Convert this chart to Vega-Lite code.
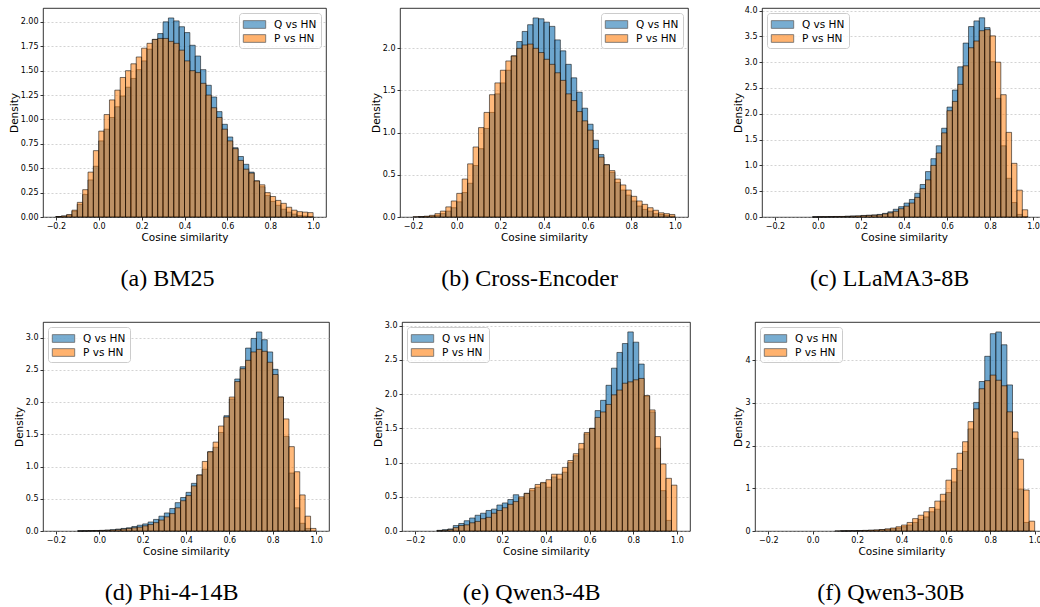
{
"$schema": "https://vega.github.io/schema/vega-lite/v6.json",
"background": "white",
"padding": {"left": 8, "top": 6, "right": 0, "bottom": 0},
"config": {
  "font": "DejaVu Sans",
  "view": {"stroke": "#000000", "strokeWidth": 0.8},
  "axis": {"domain": false, "tickColor": "#000000", "tickSize": 3, "tickWidth": 0.8, "labelFont": "DejaVu Sans", "labelFontSize": 8, "labelColor": "#000000", "labelPadding": 2, "titleFont": "DejaVu Sans", "titleFontSize": 10.5, "titleFontWeight": "normal", "titleColor": "#000000", "titlePadding": 1},
  "axisX": {"grid": false, "titlePadding": 2},
  "axisY": {"grid": true, "gridColor": "#b0b0b0", "gridDash": [2, 2], "gridWidth": 0.7, "gridOpacity": 0.8},
  "legend": {"labelFont": "DejaVu Sans", "labelFontSize": 10.5, "labelColor": "#000000", "symbolType": "M-1.6,-0.55H1.6V0.55H-1.6Z", "symbolSize": 196, "symbolStrokeColor": "#000000", "symbolStrokeWidth": 0.8, "symbolOpacity": 0.6, "padding": 4, "rowPadding": 1, "labelOffset": 12, "symbolOffset": 4, "strokeColor": "#cccccc", "fillColor": "rgba(255,255,255,0.8)", "cornerRadius": 3, "offset": 5},
  "title": {"orient": "bottom", "frame": "bounds", "anchor": "middle", "font": "Liberation Serif", "fontSize": 24, "fontWeight": "normal", "color": "#000000", "offset": 24}
},
"datasets": {
"a": [
{"s":"Q vs HN","x":-0.2,"x2":-0.175,"y":0.005},{"s":"Q vs HN","x":-0.175,"x2":-0.15,"y":0.01},{"s":"Q vs HN","x":-0.15,"x2":-0.125,"y":0.02},{"s":"Q vs HN","x":-0.125,"x2":-0.1,"y":0.06},{"s":"Q vs HN","x":-0.1,"x2":-0.075,"y":0.13},{"s":"Q vs HN","x":-0.075,"x2":-0.05,"y":0.23},{"s":"Q vs HN","x":-0.05,"x2":-0.025,"y":0.38},{"s":"Q vs HN","x":-0.025,"x2":0,"y":0.52},{"s":"Q vs HN","x":0,"x2":0.025,"y":0.78},{"s":"Q vs HN","x":0.025,"x2":0.05,"y":0.90},{"s":"Q vs HN","x":0.05,"x2":0.075,"y":1.02},{"s":"Q vs HN","x":0.075,"x2":0.1,"y":1.13},{"s":"Q vs HN","x":0.1,"x2":0.125,"y":1.24},{"s":"Q vs HN","x":0.125,"x2":0.15,"y":1.33},{"s":"Q vs HN","x":0.15,"x2":0.175,"y":1.42},{"s":"Q vs HN","x":0.175,"x2":0.2,"y":1.51},{"s":"Q vs HN","x":0.2,"x2":0.225,"y":1.60},{"s":"Q vs HN","x":0.225,"x2":0.25,"y":1.72},{"s":"Q vs HN","x":0.25,"x2":0.275,"y":1.82},{"s":"Q vs HN","x":0.275,"x2":0.3,"y":1.88},{"s":"Q vs HN","x":0.3,"x2":0.325,"y":2.00},{"s":"Q vs HN","x":0.325,"x2":0.35,"y":2.04},{"s":"Q vs HN","x":0.35,"x2":0.375,"y":2.01},{"s":"Q vs HN","x":0.375,"x2":0.4,"y":1.95},{"s":"Q vs HN","x":0.4,"x2":0.425,"y":1.89},{"s":"Q vs HN","x":0.425,"x2":0.45,"y":1.76},{"s":"Q vs HN","x":0.45,"x2":0.475,"y":1.65},{"s":"Q vs HN","x":0.475,"x2":0.5,"y":1.51},{"s":"Q vs HN","x":0.5,"x2":0.525,"y":1.35},{"s":"Q vs HN","x":0.525,"x2":0.55,"y":1.23},{"s":"Q vs HN","x":0.55,"x2":0.575,"y":1.08},{"s":"Q vs HN","x":0.575,"x2":0.6,"y":0.95},{"s":"Q vs HN","x":0.6,"x2":0.625,"y":0.82},{"s":"Q vs HN","x":0.625,"x2":0.65,"y":0.71},{"s":"Q vs HN","x":0.65,"x2":0.675,"y":0.62},{"s":"Q vs HN","x":0.675,"x2":0.7,"y":0.54},{"s":"Q vs HN","x":0.7,"x2":0.725,"y":0.46},{"s":"Q vs HN","x":0.725,"x2":0.75,"y":0.37},{"s":"Q vs HN","x":0.75,"x2":0.775,"y":0.31},{"s":"Q vs HN","x":0.775,"x2":0.8,"y":0.22},{"s":"Q vs HN","x":0.8,"x2":0.825,"y":0.16},{"s":"Q vs HN","x":0.825,"x2":0.85,"y":0.12},{"s":"Q vs HN","x":0.85,"x2":0.875,"y":0.08},{"s":"Q vs HN","x":0.875,"x2":0.9,"y":0.05},{"s":"Q vs HN","x":0.9,"x2":0.925,"y":0.03},{"s":"Q vs HN","x":0.925,"x2":0.95,"y":0.015},{"s":"Q vs HN","x":0.95,"x2":0.975,"y":0.01},{"s":"Q vs HN","x":0.975,"x2":1,"y":0.005},
{"s":"P vs HN","x":-0.2,"x2":-0.175,"y":0.005},{"s":"P vs HN","x":-0.175,"x2":-0.15,"y":0.01},{"s":"P vs HN","x":-0.15,"x2":-0.125,"y":0.025},{"s":"P vs HN","x":-0.125,"x2":-0.1,"y":0.07},{"s":"P vs HN","x":-0.1,"x2":-0.075,"y":0.15},{"s":"P vs HN","x":-0.075,"x2":-0.05,"y":0.28},{"s":"P vs HN","x":-0.05,"x2":-0.025,"y":0.46},{"s":"P vs HN","x":-0.025,"x2":0,"y":0.68},{"s":"P vs HN","x":0,"x2":0.025,"y":0.88},{"s":"P vs HN","x":0.025,"x2":0.05,"y":1.05},{"s":"P vs HN","x":0.05,"x2":0.075,"y":1.20},{"s":"P vs HN","x":0.075,"x2":0.1,"y":1.30},{"s":"P vs HN","x":0.1,"x2":0.125,"y":1.43},{"s":"P vs HN","x":0.125,"x2":0.15,"y":1.50},{"s":"P vs HN","x":0.15,"x2":0.175,"y":1.57},{"s":"P vs HN","x":0.175,"x2":0.2,"y":1.64},{"s":"P vs HN","x":0.2,"x2":0.225,"y":1.73},{"s":"P vs HN","x":0.225,"x2":0.25,"y":1.78},{"s":"P vs HN","x":0.25,"x2":0.275,"y":1.82},{"s":"P vs HN","x":0.275,"x2":0.3,"y":1.83},{"s":"P vs HN","x":0.3,"x2":0.325,"y":1.83},{"s":"P vs HN","x":0.325,"x2":0.35,"y":1.80},{"s":"P vs HN","x":0.35,"x2":0.375,"y":1.78},{"s":"P vs HN","x":0.375,"x2":0.4,"y":1.71},{"s":"P vs HN","x":0.4,"x2":0.425,"y":1.60},{"s":"P vs HN","x":0.425,"x2":0.45,"y":1.50},{"s":"P vs HN","x":0.45,"x2":0.475,"y":1.48},{"s":"P vs HN","x":0.475,"x2":0.5,"y":1.37},{"s":"P vs HN","x":0.5,"x2":0.525,"y":1.25},{"s":"P vs HN","x":0.525,"x2":0.55,"y":1.12},{"s":"P vs HN","x":0.55,"x2":0.575,"y":1.02},{"s":"P vs HN","x":0.575,"x2":0.6,"y":0.90},{"s":"P vs HN","x":0.6,"x2":0.625,"y":0.78},{"s":"P vs HN","x":0.625,"x2":0.65,"y":0.70},{"s":"P vs HN","x":0.65,"x2":0.675,"y":0.58},{"s":"P vs HN","x":0.675,"x2":0.7,"y":0.49},{"s":"P vs HN","x":0.7,"x2":0.725,"y":0.45},{"s":"P vs HN","x":0.725,"x2":0.75,"y":0.37},{"s":"P vs HN","x":0.75,"x2":0.775,"y":0.33},{"s":"P vs HN","x":0.775,"x2":0.8,"y":0.25},{"s":"P vs HN","x":0.8,"x2":0.825,"y":0.21},{"s":"P vs HN","x":0.825,"x2":0.85,"y":0.17},{"s":"P vs HN","x":0.85,"x2":0.875,"y":0.14},{"s":"P vs HN","x":0.875,"x2":0.9,"y":0.10},{"s":"P vs HN","x":0.9,"x2":0.925,"y":0.07},{"s":"P vs HN","x":0.925,"x2":0.95,"y":0.055},{"s":"P vs HN","x":0.95,"x2":0.975,"y":0.05},{"s":"P vs HN","x":0.975,"x2":1,"y":0.045}
],
"b": [
{"s":"Q vs HN","x":-0.175,"x2":-0.15,"y":0.003},{"s":"Q vs HN","x":-0.15,"x2":-0.125,"y":0.005},{"s":"Q vs HN","x":-0.125,"x2":-0.1,"y":0.01},{"s":"Q vs HN","x":-0.1,"x2":-0.075,"y":0.02},{"s":"Q vs HN","x":-0.075,"x2":-0.05,"y":0.04},{"s":"Q vs HN","x":-0.05,"x2":-0.025,"y":0.07},{"s":"Q vs HN","x":-0.025,"x2":0,"y":0.11},{"s":"Q vs HN","x":0,"x2":0.025,"y":0.18},{"s":"Q vs HN","x":0.025,"x2":0.05,"y":0.29},{"s":"Q vs HN","x":0.05,"x2":0.075,"y":0.40},{"s":"Q vs HN","x":0.075,"x2":0.1,"y":0.61},{"s":"Q vs HN","x":0.1,"x2":0.125,"y":0.81},{"s":"Q vs HN","x":0.125,"x2":0.15,"y":1.05},{"s":"Q vs HN","x":0.15,"x2":0.175,"y":1.24},{"s":"Q vs HN","x":0.175,"x2":0.2,"y":1.46},{"s":"Q vs HN","x":0.2,"x2":0.225,"y":1.59},{"s":"Q vs HN","x":0.225,"x2":0.25,"y":1.74},{"s":"Q vs HN","x":0.25,"x2":0.275,"y":1.91},{"s":"Q vs HN","x":0.275,"x2":0.3,"y":2.08},{"s":"Q vs HN","x":0.3,"x2":0.325,"y":2.20},{"s":"Q vs HN","x":0.325,"x2":0.35,"y":2.28},{"s":"Q vs HN","x":0.35,"x2":0.375,"y":2.36},{"s":"Q vs HN","x":0.375,"x2":0.4,"y":2.35},{"s":"Q vs HN","x":0.4,"x2":0.425,"y":2.31},{"s":"Q vs HN","x":0.425,"x2":0.45,"y":2.26},{"s":"Q vs HN","x":0.45,"x2":0.475,"y":2.10},{"s":"Q vs HN","x":0.475,"x2":0.5,"y":1.97},{"s":"Q vs HN","x":0.5,"x2":0.525,"y":1.81},{"s":"Q vs HN","x":0.525,"x2":0.55,"y":1.65},{"s":"Q vs HN","x":0.55,"x2":0.575,"y":1.48},{"s":"Q vs HN","x":0.575,"x2":0.6,"y":1.29},{"s":"Q vs HN","x":0.6,"x2":0.625,"y":1.10},{"s":"Q vs HN","x":0.625,"x2":0.65,"y":0.91},{"s":"Q vs HN","x":0.65,"x2":0.675,"y":0.74},{"s":"Q vs HN","x":0.675,"x2":0.7,"y":0.62},{"s":"Q vs HN","x":0.7,"x2":0.725,"y":0.53},{"s":"Q vs HN","x":0.725,"x2":0.75,"y":0.41},{"s":"Q vs HN","x":0.75,"x2":0.775,"y":0.32},{"s":"Q vs HN","x":0.775,"x2":0.8,"y":0.26},{"s":"Q vs HN","x":0.8,"x2":0.825,"y":0.19},{"s":"Q vs HN","x":0.825,"x2":0.85,"y":0.13},{"s":"Q vs HN","x":0.85,"x2":0.875,"y":0.09},{"s":"Q vs HN","x":0.875,"x2":0.9,"y":0.07},{"s":"Q vs HN","x":0.9,"x2":0.925,"y":0.04},{"s":"Q vs HN","x":0.925,"x2":0.95,"y":0.03},{"s":"Q vs HN","x":0.95,"x2":0.975,"y":0.02},{"s":"Q vs HN","x":0.975,"x2":1,"y":0.01},
{"s":"P vs HN","x":-0.2,"x2":-0.175,"y":0.005},{"s":"P vs HN","x":-0.175,"x2":-0.15,"y":0.005},{"s":"P vs HN","x":-0.15,"x2":-0.125,"y":0.01},{"s":"P vs HN","x":-0.125,"x2":-0.1,"y":0.02},{"s":"P vs HN","x":-0.1,"x2":-0.075,"y":0.04},{"s":"P vs HN","x":-0.075,"x2":-0.05,"y":0.07},{"s":"P vs HN","x":-0.05,"x2":-0.025,"y":0.12},{"s":"P vs HN","x":-0.025,"x2":0,"y":0.19},{"s":"P vs HN","x":0,"x2":0.025,"y":0.28},{"s":"P vs HN","x":0.025,"x2":0.05,"y":0.45},{"s":"P vs HN","x":0.05,"x2":0.075,"y":0.63},{"s":"P vs HN","x":0.075,"x2":0.1,"y":0.83},{"s":"P vs HN","x":0.1,"x2":0.125,"y":1.06},{"s":"P vs HN","x":0.125,"x2":0.15,"y":1.24},{"s":"P vs HN","x":0.15,"x2":0.175,"y":1.45},{"s":"P vs HN","x":0.175,"x2":0.2,"y":1.59},{"s":"P vs HN","x":0.2,"x2":0.225,"y":1.74},{"s":"P vs HN","x":0.225,"x2":0.25,"y":1.85},{"s":"P vs HN","x":0.25,"x2":0.275,"y":1.91},{"s":"P vs HN","x":0.275,"x2":0.3,"y":2.00},{"s":"P vs HN","x":0.3,"x2":0.325,"y":2.04},{"s":"P vs HN","x":0.325,"x2":0.35,"y":2.05},{"s":"P vs HN","x":0.35,"x2":0.375,"y":2.00},{"s":"P vs HN","x":0.375,"x2":0.4,"y":1.95},{"s":"P vs HN","x":0.4,"x2":0.425,"y":1.87},{"s":"P vs HN","x":0.425,"x2":0.45,"y":1.81},{"s":"P vs HN","x":0.45,"x2":0.475,"y":1.71},{"s":"P vs HN","x":0.475,"x2":0.5,"y":1.62},{"s":"P vs HN","x":0.5,"x2":0.525,"y":1.46},{"s":"P vs HN","x":0.525,"x2":0.55,"y":1.38},{"s":"P vs HN","x":0.55,"x2":0.575,"y":1.25},{"s":"P vs HN","x":0.575,"x2":0.6,"y":1.14},{"s":"P vs HN","x":0.6,"x2":0.625,"y":1.03},{"s":"P vs HN","x":0.625,"x2":0.65,"y":0.81},{"s":"P vs HN","x":0.65,"x2":0.675,"y":0.71},{"s":"P vs HN","x":0.675,"x2":0.7,"y":0.62},{"s":"P vs HN","x":0.7,"x2":0.725,"y":0.55},{"s":"P vs HN","x":0.725,"x2":0.75,"y":0.45},{"s":"P vs HN","x":0.75,"x2":0.775,"y":0.38},{"s":"P vs HN","x":0.775,"x2":0.8,"y":0.32},{"s":"P vs HN","x":0.8,"x2":0.825,"y":0.245},{"s":"P vs HN","x":0.825,"x2":0.85,"y":0.19},{"s":"P vs HN","x":0.85,"x2":0.875,"y":0.15},{"s":"P vs HN","x":0.875,"x2":0.9,"y":0.11},{"s":"P vs HN","x":0.9,"x2":0.925,"y":0.08},{"s":"P vs HN","x":0.925,"x2":0.95,"y":0.05},{"s":"P vs HN","x":0.95,"x2":0.975,"y":0.04},{"s":"P vs HN","x":0.975,"x2":1,"y":0.03}
],
"c": [
{"s":"Q vs HN","x":-0.025,"x2":0,"y":0.003},{"s":"Q vs HN","x":0,"x2":0.025,"y":0.005},{"s":"Q vs HN","x":0.025,"x2":0.05,"y":0.005},{"s":"Q vs HN","x":0.05,"x2":0.075,"y":0.008},{"s":"Q vs HN","x":0.075,"x2":0.1,"y":0.01},{"s":"Q vs HN","x":0.1,"x2":0.125,"y":0.01},{"s":"Q vs HN","x":0.125,"x2":0.15,"y":0.015},{"s":"Q vs HN","x":0.15,"x2":0.175,"y":0.02},{"s":"Q vs HN","x":0.175,"x2":0.2,"y":0.02},{"s":"Q vs HN","x":0.2,"x2":0.225,"y":0.03},{"s":"Q vs HN","x":0.225,"x2":0.25,"y":0.035},{"s":"Q vs HN","x":0.25,"x2":0.275,"y":0.04},{"s":"Q vs HN","x":0.275,"x2":0.3,"y":0.05},{"s":"Q vs HN","x":0.3,"x2":0.325,"y":0.07},{"s":"Q vs HN","x":0.325,"x2":0.35,"y":0.10},{"s":"Q vs HN","x":0.35,"x2":0.375,"y":0.15},{"s":"Q vs HN","x":0.375,"x2":0.4,"y":0.20},{"s":"Q vs HN","x":0.4,"x2":0.425,"y":0.27},{"s":"Q vs HN","x":0.425,"x2":0.45,"y":0.34},{"s":"Q vs HN","x":0.45,"x2":0.475,"y":0.46},{"s":"Q vs HN","x":0.475,"x2":0.5,"y":0.63},{"s":"Q vs HN","x":0.5,"x2":0.525,"y":0.88},{"s":"Q vs HN","x":0.525,"x2":0.55,"y":1.13},{"s":"Q vs HN","x":0.55,"x2":0.575,"y":1.38},{"s":"Q vs HN","x":0.575,"x2":0.6,"y":1.72},{"s":"Q vs HN","x":0.6,"x2":0.625,"y":2.13},{"s":"Q vs HN","x":0.625,"x2":0.65,"y":2.46},{"s":"Q vs HN","x":0.65,"x2":0.675,"y":2.91},{"s":"Q vs HN","x":0.675,"x2":0.7,"y":3.37},{"s":"Q vs HN","x":0.7,"x2":0.725,"y":3.69},{"s":"Q vs HN","x":0.725,"x2":0.75,"y":3.80},{"s":"Q vs HN","x":0.75,"x2":0.775,"y":3.86},{"s":"Q vs HN","x":0.775,"x2":0.8,"y":3.67},{"s":"Q vs HN","x":0.8,"x2":0.825,"y":3.01},{"s":"Q vs HN","x":0.825,"x2":0.85,"y":2.30},{"s":"Q vs HN","x":0.85,"x2":0.875,"y":1.38},{"s":"Q vs HN","x":0.875,"x2":0.9,"y":0.75},{"s":"Q vs HN","x":0.9,"x2":0.925,"y":0.28},{"s":"Q vs HN","x":0.925,"x2":0.95,"y":0.05},{"s":"Q vs HN","x":0.95,"x2":0.975,"y":0.01},
{"s":"P vs HN","x":-0.025,"x2":0,"y":0.002},{"s":"P vs HN","x":0,"x2":0.025,"y":0.004},{"s":"P vs HN","x":0.025,"x2":0.05,"y":0.005},{"s":"P vs HN","x":0.05,"x2":0.075,"y":0.006},{"s":"P vs HN","x":0.075,"x2":0.1,"y":0.008},{"s":"P vs HN","x":0.1,"x2":0.125,"y":0.01},{"s":"P vs HN","x":0.125,"x2":0.15,"y":0.012},{"s":"P vs HN","x":0.15,"x2":0.175,"y":0.015},{"s":"P vs HN","x":0.175,"x2":0.2,"y":0.02},{"s":"P vs HN","x":0.2,"x2":0.225,"y":0.025},{"s":"P vs HN","x":0.225,"x2":0.25,"y":0.03},{"s":"P vs HN","x":0.25,"x2":0.275,"y":0.035},{"s":"P vs HN","x":0.275,"x2":0.3,"y":0.04},{"s":"P vs HN","x":0.3,"x2":0.325,"y":0.06},{"s":"P vs HN","x":0.325,"x2":0.35,"y":0.08},{"s":"P vs HN","x":0.35,"x2":0.375,"y":0.11},{"s":"P vs HN","x":0.375,"x2":0.4,"y":0.16},{"s":"P vs HN","x":0.4,"x2":0.425,"y":0.21},{"s":"P vs HN","x":0.425,"x2":0.45,"y":0.27},{"s":"P vs HN","x":0.45,"x2":0.475,"y":0.38},{"s":"P vs HN","x":0.475,"x2":0.5,"y":0.55},{"s":"P vs HN","x":0.5,"x2":0.525,"y":0.72},{"s":"P vs HN","x":0.525,"x2":0.55,"y":1.00},{"s":"P vs HN","x":0.55,"x2":0.575,"y":1.24},{"s":"P vs HN","x":0.575,"x2":0.6,"y":1.63},{"s":"P vs HN","x":0.6,"x2":0.625,"y":2.06},{"s":"P vs HN","x":0.625,"x2":0.65,"y":2.24},{"s":"P vs HN","x":0.65,"x2":0.675,"y":2.57},{"s":"P vs HN","x":0.675,"x2":0.7,"y":2.93},{"s":"P vs HN","x":0.7,"x2":0.725,"y":3.28},{"s":"P vs HN","x":0.725,"x2":0.75,"y":3.41},{"s":"P vs HN","x":0.75,"x2":0.775,"y":3.61},{"s":"P vs HN","x":0.775,"x2":0.8,"y":3.63},{"s":"P vs HN","x":0.8,"x2":0.825,"y":3.51},{"s":"P vs HN","x":0.825,"x2":0.85,"y":3.00},{"s":"P vs HN","x":0.85,"x2":0.875,"y":2.37},{"s":"P vs HN","x":0.875,"x2":0.9,"y":1.64},{"s":"P vs HN","x":0.9,"x2":0.925,"y":1.04},{"s":"P vs HN","x":0.925,"x2":0.95,"y":0.52},{"s":"P vs HN","x":0.95,"x2":0.975,"y":0.14}
],
"d": [
{"s":"Q vs HN","x":-0.1,"x2":-0.075,"y":0.002},{"s":"Q vs HN","x":-0.075,"x2":-0.05,"y":0.004},{"s":"Q vs HN","x":-0.05,"x2":-0.025,"y":0.006},{"s":"Q vs HN","x":-0.025,"x2":0,"y":0.008},{"s":"Q vs HN","x":0,"x2":0.025,"y":0.01},{"s":"Q vs HN","x":0.025,"x2":0.05,"y":0.015},{"s":"Q vs HN","x":0.05,"x2":0.075,"y":0.02},{"s":"Q vs HN","x":0.075,"x2":0.1,"y":0.03},{"s":"Q vs HN","x":0.1,"x2":0.125,"y":0.04},{"s":"Q vs HN","x":0.125,"x2":0.15,"y":0.05},{"s":"Q vs HN","x":0.15,"x2":0.175,"y":0.07},{"s":"Q vs HN","x":0.175,"x2":0.2,"y":0.09},{"s":"Q vs HN","x":0.2,"x2":0.225,"y":0.11},{"s":"Q vs HN","x":0.225,"x2":0.25,"y":0.14},{"s":"Q vs HN","x":0.25,"x2":0.275,"y":0.18},{"s":"Q vs HN","x":0.275,"x2":0.3,"y":0.23},{"s":"Q vs HN","x":0.3,"x2":0.325,"y":0.28},{"s":"Q vs HN","x":0.325,"x2":0.35,"y":0.35},{"s":"Q vs HN","x":0.35,"x2":0.375,"y":0.44},{"s":"Q vs HN","x":0.375,"x2":0.4,"y":0.52},{"s":"Q vs HN","x":0.4,"x2":0.425,"y":0.60},{"s":"Q vs HN","x":0.425,"x2":0.45,"y":0.74},{"s":"Q vs HN","x":0.45,"x2":0.475,"y":0.87},{"s":"Q vs HN","x":0.475,"x2":0.5,"y":0.96},{"s":"Q vs HN","x":0.5,"x2":0.525,"y":1.23},{"s":"Q vs HN","x":0.525,"x2":0.55,"y":1.30},{"s":"Q vs HN","x":0.55,"x2":0.575,"y":1.53},{"s":"Q vs HN","x":0.575,"x2":0.6,"y":1.79},{"s":"Q vs HN","x":0.6,"x2":0.625,"y":2.05},{"s":"Q vs HN","x":0.625,"x2":0.65,"y":2.36},{"s":"Q vs HN","x":0.65,"x2":0.675,"y":2.55},{"s":"Q vs HN","x":0.675,"x2":0.7,"y":2.84},{"s":"Q vs HN","x":0.7,"x2":0.725,"y":2.99},{"s":"Q vs HN","x":0.725,"x2":0.75,"y":3.09},{"s":"Q vs HN","x":0.75,"x2":0.775,"y":2.97},{"s":"Q vs HN","x":0.775,"x2":0.8,"y":2.78},{"s":"Q vs HN","x":0.8,"x2":0.825,"y":2.51},{"s":"Q vs HN","x":0.825,"x2":0.85,"y":2.08},{"s":"Q vs HN","x":0.85,"x2":0.875,"y":1.47},{"s":"Q vs HN","x":0.875,"x2":0.9,"y":0.90},{"s":"Q vs HN","x":0.9,"x2":0.925,"y":0.36},{"s":"Q vs HN","x":0.925,"x2":0.95,"y":0.12},{"s":"Q vs HN","x":0.95,"x2":0.975,"y":0.04},
{"s":"P vs HN","x":-0.1,"x2":-0.075,"y":0.001},{"s":"P vs HN","x":-0.075,"x2":-0.05,"y":0.002},{"s":"P vs HN","x":-0.05,"x2":-0.025,"y":0.004},{"s":"P vs HN","x":-0.025,"x2":0,"y":0.006},{"s":"P vs HN","x":0,"x2":0.025,"y":0.008},{"s":"P vs HN","x":0.025,"x2":0.05,"y":0.01},{"s":"P vs HN","x":0.05,"x2":0.075,"y":0.015},{"s":"P vs HN","x":0.075,"x2":0.1,"y":0.02},{"s":"P vs HN","x":0.1,"x2":0.125,"y":0.03},{"s":"P vs HN","x":0.125,"x2":0.15,"y":0.04},{"s":"P vs HN","x":0.15,"x2":0.175,"y":0.05},{"s":"P vs HN","x":0.175,"x2":0.2,"y":0.06},{"s":"P vs HN","x":0.2,"x2":0.225,"y":0.08},{"s":"P vs HN","x":0.225,"x2":0.25,"y":0.10},{"s":"P vs HN","x":0.25,"x2":0.275,"y":0.13},{"s":"P vs HN","x":0.275,"x2":0.3,"y":0.17},{"s":"P vs HN","x":0.3,"x2":0.325,"y":0.22},{"s":"P vs HN","x":0.325,"x2":0.35,"y":0.27},{"s":"P vs HN","x":0.35,"x2":0.375,"y":0.36},{"s":"P vs HN","x":0.375,"x2":0.4,"y":0.47},{"s":"P vs HN","x":0.4,"x2":0.425,"y":0.55},{"s":"P vs HN","x":0.425,"x2":0.45,"y":0.70},{"s":"P vs HN","x":0.45,"x2":0.475,"y":0.87},{"s":"P vs HN","x":0.475,"x2":0.5,"y":1.08},{"s":"P vs HN","x":0.5,"x2":0.525,"y":1.23},{"s":"P vs HN","x":0.525,"x2":0.55,"y":1.38},{"s":"P vs HN","x":0.55,"x2":0.575,"y":1.63},{"s":"P vs HN","x":0.575,"x2":0.6,"y":1.77},{"s":"P vs HN","x":0.6,"x2":0.625,"y":2.08},{"s":"P vs HN","x":0.625,"x2":0.65,"y":2.32},{"s":"P vs HN","x":0.65,"x2":0.675,"y":2.52},{"s":"P vs HN","x":0.675,"x2":0.7,"y":2.65},{"s":"P vs HN","x":0.7,"x2":0.725,"y":2.78},{"s":"P vs HN","x":0.725,"x2":0.75,"y":2.82},{"s":"P vs HN","x":0.75,"x2":0.775,"y":2.79},{"s":"P vs HN","x":0.775,"x2":0.8,"y":2.62},{"s":"P vs HN","x":0.8,"x2":0.825,"y":2.43},{"s":"P vs HN","x":0.825,"x2":0.85,"y":2.08},{"s":"P vs HN","x":0.85,"x2":0.875,"y":1.74},{"s":"P vs HN","x":0.875,"x2":0.9,"y":1.31},{"s":"P vs HN","x":0.9,"x2":0.925,"y":0.92},{"s":"P vs HN","x":0.925,"x2":0.95,"y":0.56},{"s":"P vs HN","x":0.95,"x2":0.975,"y":0.23},{"s":"P vs HN","x":0.975,"x2":1,"y":0.04}
],
"e": [
{"s":"Q vs HN","x":-0.1,"x2":-0.075,"y":0.01},{"s":"Q vs HN","x":-0.075,"x2":-0.05,"y":0.02},{"s":"Q vs HN","x":-0.05,"x2":-0.025,"y":0.03},{"s":"Q vs HN","x":-0.025,"x2":0,"y":0.08},{"s":"Q vs HN","x":0,"x2":0.025,"y":0.11},{"s":"Q vs HN","x":0.025,"x2":0.05,"y":0.15},{"s":"Q vs HN","x":0.05,"x2":0.075,"y":0.19},{"s":"Q vs HN","x":0.075,"x2":0.1,"y":0.23},{"s":"Q vs HN","x":0.1,"x2":0.125,"y":0.26},{"s":"Q vs HN","x":0.125,"x2":0.15,"y":0.30},{"s":"Q vs HN","x":0.15,"x2":0.175,"y":0.32},{"s":"Q vs HN","x":0.175,"x2":0.2,"y":0.38},{"s":"Q vs HN","x":0.2,"x2":0.225,"y":0.41},{"s":"Q vs HN","x":0.225,"x2":0.25,"y":0.46},{"s":"Q vs HN","x":0.25,"x2":0.275,"y":0.53},{"s":"Q vs HN","x":0.275,"x2":0.3,"y":0.48},{"s":"Q vs HN","x":0.3,"x2":0.325,"y":0.55},{"s":"Q vs HN","x":0.325,"x2":0.35,"y":0.59},{"s":"Q vs HN","x":0.35,"x2":0.375,"y":0.64},{"s":"Q vs HN","x":0.375,"x2":0.4,"y":0.70},{"s":"Q vs HN","x":0.4,"x2":0.425,"y":0.64},{"s":"Q vs HN","x":0.425,"x2":0.45,"y":0.79},{"s":"Q vs HN","x":0.45,"x2":0.475,"y":0.76},{"s":"Q vs HN","x":0.475,"x2":0.5,"y":0.86},{"s":"Q vs HN","x":0.5,"x2":0.525,"y":1.00},{"s":"Q vs HN","x":0.525,"x2":0.55,"y":1.10},{"s":"Q vs HN","x":0.55,"x2":0.575,"y":1.20},{"s":"Q vs HN","x":0.575,"x2":0.6,"y":1.42},{"s":"Q vs HN","x":0.6,"x2":0.625,"y":1.50},{"s":"Q vs HN","x":0.625,"x2":0.65,"y":1.76},{"s":"Q vs HN","x":0.65,"x2":0.675,"y":1.91},{"s":"Q vs HN","x":0.675,"x2":0.7,"y":2.13},{"s":"Q vs HN","x":0.7,"x2":0.725,"y":2.38},{"s":"Q vs HN","x":0.725,"x2":0.75,"y":2.61},{"s":"Q vs HN","x":0.75,"x2":0.775,"y":2.74},{"s":"Q vs HN","x":0.775,"x2":0.8,"y":2.91},{"s":"Q vs HN","x":0.8,"x2":0.825,"y":2.76},{"s":"Q vs HN","x":0.825,"x2":0.85,"y":2.44},{"s":"Q vs HN","x":0.85,"x2":0.875,"y":1.97},{"s":"Q vs HN","x":0.875,"x2":0.9,"y":1.74},{"s":"Q vs HN","x":0.9,"x2":0.925,"y":1.21},{"s":"Q vs HN","x":0.925,"x2":0.95,"y":0.59},{"s":"Q vs HN","x":0.95,"x2":0.975,"y":0.155},
{"s":"P vs HN","x":-0.1,"x2":-0.075,"y":0.005},{"s":"P vs HN","x":-0.075,"x2":-0.05,"y":0.01},{"s":"P vs HN","x":-0.05,"x2":-0.025,"y":0.02},{"s":"P vs HN","x":-0.025,"x2":0,"y":0.05},{"s":"P vs HN","x":0,"x2":0.025,"y":0.08},{"s":"P vs HN","x":0.025,"x2":0.05,"y":0.09},{"s":"P vs HN","x":0.05,"x2":0.075,"y":0.12},{"s":"P vs HN","x":0.075,"x2":0.1,"y":0.14},{"s":"P vs HN","x":0.1,"x2":0.125,"y":0.18},{"s":"P vs HN","x":0.125,"x2":0.15,"y":0.20},{"s":"P vs HN","x":0.15,"x2":0.175,"y":0.26},{"s":"P vs HN","x":0.175,"x2":0.2,"y":0.30},{"s":"P vs HN","x":0.2,"x2":0.225,"y":0.34},{"s":"P vs HN","x":0.225,"x2":0.25,"y":0.39},{"s":"P vs HN","x":0.25,"x2":0.275,"y":0.43},{"s":"P vs HN","x":0.275,"x2":0.3,"y":0.50},{"s":"P vs HN","x":0.3,"x2":0.325,"y":0.55},{"s":"P vs HN","x":0.325,"x2":0.35,"y":0.62},{"s":"P vs HN","x":0.35,"x2":0.375,"y":0.68},{"s":"P vs HN","x":0.375,"x2":0.4,"y":0.71},{"s":"P vs HN","x":0.4,"x2":0.425,"y":0.75},{"s":"P vs HN","x":0.425,"x2":0.45,"y":0.83},{"s":"P vs HN","x":0.45,"x2":0.475,"y":0.83},{"s":"P vs HN","x":0.475,"x2":0.5,"y":0.93},{"s":"P vs HN","x":0.5,"x2":0.525,"y":1.03},{"s":"P vs HN","x":0.525,"x2":0.55,"y":1.13},{"s":"P vs HN","x":0.55,"x2":0.575,"y":1.28},{"s":"P vs HN","x":0.575,"x2":0.6,"y":1.44},{"s":"P vs HN","x":0.6,"x2":0.625,"y":1.50},{"s":"P vs HN","x":0.625,"x2":0.65,"y":1.66},{"s":"P vs HN","x":0.65,"x2":0.675,"y":1.74},{"s":"P vs HN","x":0.675,"x2":0.7,"y":1.85},{"s":"P vs HN","x":0.7,"x2":0.725,"y":1.99},{"s":"P vs HN","x":0.725,"x2":0.75,"y":2.06},{"s":"P vs HN","x":0.75,"x2":0.775,"y":2.16},{"s":"P vs HN","x":0.775,"x2":0.8,"y":2.18},{"s":"P vs HN","x":0.8,"x2":0.825,"y":2.21},{"s":"P vs HN","x":0.825,"x2":0.85,"y":2.23},{"s":"P vs HN","x":0.85,"x2":0.875,"y":1.98},{"s":"P vs HN","x":0.875,"x2":0.9,"y":1.77},{"s":"P vs HN","x":0.9,"x2":0.925,"y":1.38},{"s":"P vs HN","x":0.925,"x2":0.95,"y":0.98},{"s":"P vs HN","x":0.95,"x2":0.975,"y":0.77},{"s":"P vs HN","x":0.975,"x2":1,"y":0.67}
],
"f": [
{"s":"Q vs HN","x":0.125,"x2":0.15,"y":0.002},{"s":"Q vs HN","x":0.15,"x2":0.175,"y":0.003},{"s":"Q vs HN","x":0.175,"x2":0.2,"y":0.005},{"s":"Q vs HN","x":0.2,"x2":0.225,"y":0.008},{"s":"Q vs HN","x":0.225,"x2":0.25,"y":0.01},{"s":"Q vs HN","x":0.25,"x2":0.275,"y":0.015},{"s":"Q vs HN","x":0.275,"x2":0.3,"y":0.02},{"s":"Q vs HN","x":0.3,"x2":0.325,"y":0.03},{"s":"Q vs HN","x":0.325,"x2":0.35,"y":0.04},{"s":"Q vs HN","x":0.35,"x2":0.375,"y":0.05},{"s":"Q vs HN","x":0.375,"x2":0.4,"y":0.07},{"s":"Q vs HN","x":0.4,"x2":0.425,"y":0.10},{"s":"Q vs HN","x":0.425,"x2":0.45,"y":0.14},{"s":"Q vs HN","x":0.45,"x2":0.475,"y":0.20},{"s":"Q vs HN","x":0.475,"x2":0.5,"y":0.27},{"s":"Q vs HN","x":0.5,"x2":0.525,"y":0.33},{"s":"Q vs HN","x":0.525,"x2":0.55,"y":0.45},{"s":"Q vs HN","x":0.55,"x2":0.575,"y":0.51},{"s":"Q vs HN","x":0.575,"x2":0.6,"y":0.70},{"s":"Q vs HN","x":0.6,"x2":0.625,"y":0.90},{"s":"Q vs HN","x":0.625,"x2":0.65,"y":1.15},{"s":"Q vs HN","x":0.65,"x2":0.675,"y":1.42},{"s":"Q vs HN","x":0.675,"x2":0.7,"y":1.86},{"s":"Q vs HN","x":0.7,"x2":0.725,"y":2.39},{"s":"Q vs HN","x":0.725,"x2":0.75,"y":3.01},{"s":"Q vs HN","x":0.75,"x2":0.775,"y":3.50},{"s":"Q vs HN","x":0.775,"x2":0.8,"y":4.09},{"s":"Q vs HN","x":0.8,"x2":0.825,"y":4.62},{"s":"Q vs HN","x":0.825,"x2":0.85,"y":4.66},{"s":"Q vs HN","x":0.85,"x2":0.875,"y":4.36},{"s":"Q vs HN","x":0.875,"x2":0.9,"y":3.42},{"s":"Q vs HN","x":0.9,"x2":0.925,"y":2.17},{"s":"Q vs HN","x":0.925,"x2":0.95,"y":0.98},{"s":"Q vs HN","x":0.95,"x2":0.975,"y":0.20},
{"s":"P vs HN","x":0.1,"x2":0.125,"y":0.002},{"s":"P vs HN","x":0.125,"x2":0.15,"y":0.003},{"s":"P vs HN","x":0.15,"x2":0.175,"y":0.005},{"s":"P vs HN","x":0.175,"x2":0.2,"y":0.007},{"s":"P vs HN","x":0.2,"x2":0.225,"y":0.01},{"s":"P vs HN","x":0.225,"x2":0.25,"y":0.015},{"s":"P vs HN","x":0.25,"x2":0.275,"y":0.02},{"s":"P vs HN","x":0.275,"x2":0.3,"y":0.025},{"s":"P vs HN","x":0.3,"x2":0.325,"y":0.035},{"s":"P vs HN","x":0.325,"x2":0.35,"y":0.05},{"s":"P vs HN","x":0.35,"x2":0.375,"y":0.07},{"s":"P vs HN","x":0.375,"x2":0.4,"y":0.10},{"s":"P vs HN","x":0.4,"x2":0.425,"y":0.14},{"s":"P vs HN","x":0.425,"x2":0.45,"y":0.20},{"s":"P vs HN","x":0.45,"x2":0.475,"y":0.29},{"s":"P vs HN","x":0.475,"x2":0.5,"y":0.37},{"s":"P vs HN","x":0.5,"x2":0.525,"y":0.45},{"s":"P vs HN","x":0.525,"x2":0.55,"y":0.55},{"s":"P vs HN","x":0.55,"x2":0.575,"y":0.70},{"s":"P vs HN","x":0.575,"x2":0.6,"y":0.86},{"s":"P vs HN","x":0.6,"x2":0.625,"y":1.19},{"s":"P vs HN","x":0.625,"x2":0.65,"y":1.46},{"s":"P vs HN","x":0.65,"x2":0.675,"y":1.82},{"s":"P vs HN","x":0.675,"x2":0.7,"y":2.09},{"s":"P vs HN","x":0.7,"x2":0.725,"y":2.56},{"s":"P vs HN","x":0.725,"x2":0.75,"y":2.86},{"s":"P vs HN","x":0.75,"x2":0.775,"y":3.33},{"s":"P vs HN","x":0.775,"x2":0.8,"y":3.52},{"s":"P vs HN","x":0.8,"x2":0.825,"y":3.65},{"s":"P vs HN","x":0.825,"x2":0.85,"y":3.53},{"s":"P vs HN","x":0.85,"x2":0.875,"y":3.40},{"s":"P vs HN","x":0.875,"x2":0.9,"y":2.79},{"s":"P vs HN","x":0.9,"x2":0.925,"y":2.32},{"s":"P vs HN","x":0.925,"x2":0.95,"y":1.68},{"s":"P vs HN","x":0.95,"x2":0.975,"y":0.96},{"s":"P vs HN","x":0.975,"x2":1,"y":0.23}
]
},
"spacing": 30,
"resolve": {"legend": {"color": "independent", "fillOpacity": "independent"}, "scale": {"color": "independent", "fillOpacity": "independent"}},
"vconcat": [
 {"spacing": 43,
  "resolve": {"legend": {"color": "independent", "fillOpacity": "independent"}, "scale": {"color": "independent", "fillOpacity": "independent"}},
  "hconcat": [
  {"width": 283, "height": 209, "title": {"text": "(a) BM25"}, "data": {"name": "a"},
   "mark": {"type": "bar", "stroke": "#000000", "strokeOpacity": 0.6, "strokeWidth": 0.9},
   "encoding": {
    "x": {"field": "x", "type": "quantitative", "scale": {"domain": [-0.26, 1.06], "nice": false, "zero": false}, "axis": {"title": "Cosine similarity", "values": [-0.2, 0, 0.2, 0.4, 0.6, 0.8, 1.0], "format": ".1f"}},
    "x2": {"field": "x2"},
    "y": {"field": "y", "type": "quantitative", "stack": null, "scale": {"domain": [0, 2.142], "nice": false}, "axis": {"title": "Density", "values": [0, 0.25, 0.5, 0.75, 1, 1.25, 1.5, 1.75, 2], "format": ".2f"}},
    "y2": {"datum": 0},
    "fillOpacity": {"field": "s", "type": "nominal", "scale": {"domain": ["Q vs HN", "P vs HN"], "range": [0.65, 0.55]}, "legend": null},
    "color": {"field": "s", "type": "nominal", "scale": {"domain": ["Q vs HN", "P vs HN"], "range": ["#1f77b4", "#ff7f0e"]}, "legend": {"title": null, "orient": "top-right"}}
   }},
  {"width": 288, "height": 209, "title": {"text": "(b) Cross-Encoder"}, "data": {"name": "b"},
   "mark": {"type": "bar", "stroke": "#000000", "strokeOpacity": 0.6, "strokeWidth": 0.9},
   "encoding": {
    "x": {"field": "x", "type": "quantitative", "scale": {"domain": [-0.26, 1.06], "nice": false, "zero": false}, "axis": {"title": "Cosine similarity", "values": [-0.2, 0, 0.2, 0.4, 0.6, 0.8, 1.0], "format": ".1f"}},
    "x2": {"field": "x2"},
    "y": {"field": "y", "type": "quantitative", "stack": null, "scale": {"domain": [0, 2.478], "nice": false}, "axis": {"title": "Density", "values": [0, 0.5, 1, 1.5, 2], "format": ".1f"}},
    "y2": {"datum": 0},
    "fillOpacity": {"field": "s", "type": "nominal", "scale": {"domain": ["Q vs HN", "P vs HN"], "range": [0.65, 0.55]}, "legend": null},
    "color": {"field": "s", "type": "nominal", "scale": {"domain": ["Q vs HN", "P vs HN"], "range": ["#1f77b4", "#ff7f0e"]}, "legend": {"title": null, "orient": "top-right"}}
   }},
  {"width": 284, "height": 209, "title": {"text": "(c) LLaMA3-8B"}, "data": {"name": "c"},
   "mark": {"type": "bar", "stroke": "#000000", "strokeOpacity": 0.6, "strokeWidth": 0.9},
   "encoding": {
    "x": {"field": "x", "type": "quantitative", "scale": {"domain": [-0.26, 1.06], "nice": false, "zero": false}, "axis": {"title": "Cosine similarity", "values": [-0.2, 0, 0.2, 0.4, 0.6, 0.8, 1.0], "format": ".1f"}},
    "x2": {"field": "x2"},
    "y": {"field": "y", "type": "quantitative", "stack": null, "scale": {"domain": [0, 4.05], "nice": false}, "axis": {"title": "Density", "values": [0, 0.5, 1, 1.5, 2, 2.5, 3, 3.5, 4], "format": ".1f"}},
    "y2": {"datum": 0},
    "fillOpacity": {"field": "s", "type": "nominal", "scale": {"domain": ["Q vs HN", "P vs HN"], "range": [0.65, 0.55]}, "legend": null},
    "color": {"field": "s", "type": "nominal", "scale": {"domain": ["Q vs HN", "P vs HN"], "range": ["#1f77b4", "#ff7f0e"]}, "legend": {"title": null, "orient": "top-left"}}
   }}
 ]},
 {"spacing": 42,
  "resolve": {"legend": {"color": "independent", "fillOpacity": "independent"}, "scale": {"color": "independent", "fillOpacity": "independent"}},
  "hconcat": [
  {"width": 286, "height": 209, "title": {"text": "(d) Phi-4-14B"}, "data": {"name": "d"},
   "mark": {"type": "bar", "stroke": "#000000", "strokeOpacity": 0.6, "strokeWidth": 0.9},
   "encoding": {
    "x": {"field": "x", "type": "quantitative", "scale": {"domain": [-0.26, 1.06], "nice": false, "zero": false}, "axis": {"title": "Cosine similarity", "values": [-0.2, 0, 0.2, 0.4, 0.6, 0.8, 1.0], "format": ".1f"}},
    "x2": {"field": "x2"},
    "y": {"field": "y", "type": "quantitative", "stack": null, "scale": {"domain": [0, 3.245], "nice": false}, "axis": {"title": "Density", "values": [0, 0.5, 1, 1.5, 2, 2.5, 3], "format": ".1f"}},
    "y2": {"datum": 0},
    "fillOpacity": {"field": "s", "type": "nominal", "scale": {"domain": ["Q vs HN", "P vs HN"], "range": [0.65, 0.55]}, "legend": null},
    "color": {"field": "s", "type": "nominal", "scale": {"domain": ["Q vs HN", "P vs HN"], "range": ["#1f77b4", "#ff7f0e"]}, "legend": {"title": null, "orient": "top-left"}}
   }},
  {"width": 288, "height": 209, "title": {"text": "(e) Qwen3-4B"}, "data": {"name": "e"},
   "mark": {"type": "bar", "stroke": "#000000", "strokeOpacity": 0.6, "strokeWidth": 0.9},
   "encoding": {
    "x": {"field": "x", "type": "quantitative", "scale": {"domain": [-0.26, 1.06], "nice": false, "zero": false}, "axis": {"title": "Cosine similarity", "values": [-0.2, 0, 0.2, 0.4, 0.6, 0.8, 1.0], "format": ".1f"}},
    "x2": {"field": "x2"},
    "y": {"field": "y", "type": "quantitative", "stack": null, "scale": {"domain": [0, 3.055], "nice": false}, "axis": {"title": "Density", "values": [0, 0.5, 1, 1.5, 2, 2.5, 3], "format": ".1f"}},
    "y2": {"datum": 0},
    "fillOpacity": {"field": "s", "type": "nominal", "scale": {"domain": ["Q vs HN", "P vs HN"], "range": [0.65, 0.55]}, "legend": null},
    "color": {"field": "s", "type": "nominal", "scale": {"domain": ["Q vs HN", "P vs HN"], "range": ["#1f77b4", "#ff7f0e"]}, "legend": {"title": null, "orient": "top-left"}}
   }},
  {"width": 293, "height": 209, "title": {"text": "(f) Qwen3-30B"}, "data": {"name": "f"},
   "mark": {"type": "bar", "stroke": "#000000", "strokeOpacity": 0.6, "strokeWidth": 0.9},
   "encoding": {
    "x": {"field": "x", "type": "quantitative", "scale": {"domain": [-0.26, 1.06], "nice": false, "zero": false}, "axis": {"title": "Cosine similarity", "values": [-0.2, 0, 0.2, 0.4, 0.6, 0.8, 1.0], "format": ".1f"}},
    "x2": {"field": "x2"},
    "y": {"field": "y", "type": "quantitative", "stack": null, "scale": {"domain": [0, 4.893], "nice": false}, "axis": {"title": "Density", "values": [0, 1, 2, 3, 4], "format": "d"}},
    "y2": {"datum": 0},
    "fillOpacity": {"field": "s", "type": "nominal", "scale": {"domain": ["Q vs HN", "P vs HN"], "range": [0.65, 0.55]}, "legend": null},
    "color": {"field": "s", "type": "nominal", "scale": {"domain": ["Q vs HN", "P vs HN"], "range": ["#1f77b4", "#ff7f0e"]}, "legend": {"title": null, "orient": "top-left"}}
   }}
 ]}
]
}
